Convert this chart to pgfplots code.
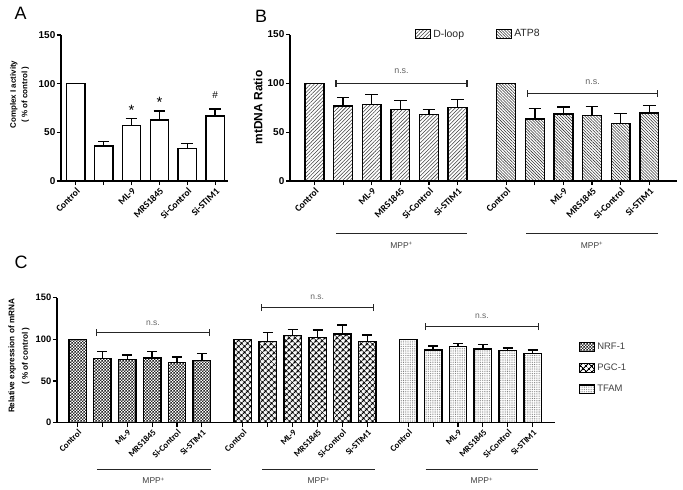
\documentclass[border=0pt]{standalone}
\usepackage{fontspec}
\setmainfont{Liberation Sans}
\newfontfamily\calfont{Carlito}
\usepackage{pgfplots}
\pgfplotsset{compat=1.18}
\usetikzlibrary{patterns,patterns.meta}

% small checkerboard for NRF-1
\pgfdeclarepatternformonly{checks}{\pgfqpoint{0pt}{0pt}}{\pgfqpoint{3.4pt}{3.4pt}}{\pgfqpoint{3.4pt}{3.4pt}}{%
  \pgfpathrectangle{\pgfqpoint{0pt}{0pt}}{\pgfqpoint{1.7pt}{1.7pt}}%
  \pgfpathrectangle{\pgfqpoint{1.7pt}{1.7pt}}{\pgfqpoint{1.7pt}{1.7pt}}%
  \pgfusepath{fill}}

\tikzset{nsbar/.style={line width=1.1bp, black!85}}
% bracket from x1 to x2 at height y, with end ticks
\newcommand\nsbracket[3]{%
  \draw[nsbar] (axis cs:#1,#3) -- (axis cs:#2,#3);
  \draw[nsbar] ([yshift=-3.5bp]axis cs:#1,#3) -- ([yshift=3.5bp]axis cs:#1,#3);
  \draw[nsbar] ([yshift=-3.5bp]axis cs:#2,#3) -- ([yshift=3.5bp]axis cs:#2,#3);}

\pgfplotsset{
  gp/.style={
    scale only axis, anchor=south west, clip=false,
    axis x line*=bottom, axis y line*=left,
    axis line style={line width=1.4bp, black},
    tick align=outside, major tick length=4bp,
    tick style={line width=1.2bp, black},
    ymin=0, ymax=150, ytick={0,50,100,150},
    /pgf/number format/assume math mode=true,
    yticklabel style={font=\bfseries\fontsize{10}{10}\selectfont, inner sep=1.5bp},
    x tick label style={rotate=45, anchor=north east, inner sep=1.5bp,
      font=\calfont\bfseries\fontsize{9.6}{9.6}\selectfont},
  },
  gpbar/.style={ybar, bar shift=0pt, draw=black, line width=1.4bp,
    legend image code/.code={\draw[##1, line width=1.2bp] (0bp,-4.3bp) rectangle (15bp,4.3bp);},
    error bars/y dir=plus, error bars/y explicit,
    error bars/error bar style={line width=1.4bp, black},
    error bars/error mark options={rotate=90, line width=1.4bp, mark size=#1, black}},
}

% panel A: complex I activity
\pgfplotstableread{
x y e
0 100 0
1 36 4.4
2 57 7.4
3 62.7 9.3
4 33.6 5.1
5 66.8 7.2
}\tabA

% panel B: mtDNA ratio
\pgfplotstableread{
x y e
0 100 0
1 76.8 8.4
2 78.4 10
3 73.4 9.3
4 67.8 5.4
5 75.5 8.2
}\tabDloop
\pgfplotstableread{
x y e
6.7 100 0
7.7 63.4 11.1
8.7 68.6 7.3
9.7 66.9 9.2
10.7 59.0 10.2
11.7 69.8 7.3
}\tabATP

% panel C: relative mRNA
\pgfplotstableread{
x y e
0 100 0
1 77.0 8.2
2 75.8 5.6
3 77.8 7.4
4 72.3 6.4
5 74.7 8.0
}\tabNRF
\pgfplotstableread{
x y e
6.65 100 0
7.65 97.2 11.3
8.65 104.4 7.6
9.65 102.0 9.3
10.65 106.5 10.8
11.65 97.2 8.1
}\tabPGC
\pgfplotstableread{
x y e
13.3 100 0
14.3 87.3 4.7
15.3 91.2 4.0
16.3 88.5 5.1
17.3 86.5 3.2
18.3 82.8 4.5
}\tabTFAM

\begin{document}
\begin{tikzpicture}
\useasboundingbox (0,0) rectangle (683bp,-490bp);

\node[font=\fontsize{18}{18}\selectfont] at (20.5bp,-13.5bp) {A};
\node[font=\fontsize{18}{18}\selectfont] at (261bp,-16.5bp) {B};
\node[font=\fontsize{18}{18}\selectfont] at (21bp,-262bp) {C};

\node[rotate=90, align=center, font=\bfseries\fontsize{8}{11.5}\selectfont]
  at (19.5bp,-94.5bp) {Complex I activity\\( \% of control )};
\node[rotate=90, font=\bfseries\fontsize{12}{12}\selectfont]
  at (258bp,-107.5bp) {mtDNA Ratio};
\node[rotate=90, align=center, font=\bfseries\fontsize{8.2}{13.5}\selectfont]
  at (19bp,-356bp) {Relative expression of mRNA\\( \% of control )};

% ---------- A ----------
\begin{axis}[gp, at={(61bp,-181bp)}, width=167bp, height=146bp,
  xmin=-0.53, xmax=5.46, xtick={0,...,5},
  xticklabels={Control,,ML-9,MRS1845,Si-Control,Si-STIM1}]
\addplot[gpbar=5.8bp, bar width=0.66, fill=white] table[x=x,y=y,y error=e] {\tabA};
\node[font=\fontsize{15}{15}\selectfont] at (axis cs:2,73) {*};
\node[font=\fontsize{15}{15}\selectfont] at (axis cs:3,81) {*};
\node[font=\fontsize{10}{10}\selectfont] at (axis cs:5,88.4) {\#};
\end{axis}

% ---------- B ----------
\begin{axis}[gp, at={(290bp,-181bp)}, width=387bp, height=146.5bp,
  xmin=-0.857, xmax=12.67,
  xtick={0,1,2,3,4,5,6.7,7.7,8.7,9.7,10.7,11.7},
  xticklabels={Control,,ML-9,MRS1845,Si-Control,Si-STIM1,Control,,ML-9,MRS1845,Si-Control,Si-STIM1},
  legend style={at={(0.315,1.003)}, anchor=west, draw=none, fill=none,
    legend columns=2, font=\fontsize{10.5}{12}\selectfont, text=black!85,
    /tikz/every even column/.append style={column sep=30bp}}]
\addplot[gpbar=6.3bp, bar width=0.66, fill=white,
  pattern={Lines[angle=45,distance=2.6pt,line width=0.55pt]}, pattern color=black!75]
  table[x=x,y=y,y error=e] {\tabDloop};
\addplot[gpbar=6.3bp, bar width=0.66, fill=white,
  pattern={Lines[angle=-45,distance=2.1pt,line width=0.55pt]}, pattern color=black!80]
  table[x=x,y=y,y error=e] {\tabATP};
\legend{D-loop, ATP8}
\nsbracket{0.75}{5.33}{100}
\node[font=\fontsize{9}{9}\selectfont, text=black!60] at (axis cs:3.04,113) {n.s.};
\nsbracket{7.43}{12.0}{89.6}
\node[font=\fontsize{9}{9}\selectfont, text=black!60] at (axis cs:9.72,101.5) {n.s.};
% MPP+ lines
\draw[nsbar] (axis cs:0.75,-53.5) -- (axis cs:5.33,-53.5);
\node[font=\fontsize{8.5}{9}\selectfont, text=black!75] at (axis cs:3.04,-65.5) {MPP\textsuperscript{+}};
\draw[nsbar] (axis cs:7.4,-53.5) -- (axis cs:12.0,-53.5);
\node[font=\fontsize{8.5}{9}\selectfont, text=black!75] at (axis cs:9.7,-65.5) {MPP\textsuperscript{+}};
\end{axis}

% ---------- C ----------
\begin{axis}[gp, at={(57bp,-422.7bp)}, width=498bp, height=125bp,
  xmin=-0.825, xmax=19.2,
  xtick={0,1,2,3,4,5,6.65,7.65,8.65,9.65,10.65,11.65,13.3,14.3,15.3,16.3,17.3,18.3},
  xticklabels={Control,,ML-9,MRS1845,Si-Control,Si-STIM1,Control,,ML-9,MRS1845,Si-Control,Si-STIM1,Control,,ML-9,MRS1845,Si-Control,Si-STIM1},
  x tick label style={font=\calfont\bfseries\fontsize{8.8}{8.8}\selectfont},
  yticklabel style={font=\bfseries\fontsize{9.4}{9.4}\selectfont},
  legend style={at={(1.042,0.67)}, anchor=north west, draw=none, fill=none,
    legend cell align=left, row sep=9bp, font=\fontsize{9.5}{11}\selectfont, text=black!75}]
\addplot[gpbar=5bp, bar width=0.7, fill=white, pattern=checks, pattern color=black!85]
  table[x=x,y=y,y error=e] {\tabNRF};
\addplot[gpbar=5bp, bar width=0.7, fill=white,
  pattern={Hatch[angle=45,distance=4pt,line width=1.1pt]}, pattern color=black]
  table[x=x,y=y,y error=e] {\tabPGC};
\addplot[gpbar=5bp, bar width=0.7, fill=white,
  pattern={Dots[distance=1.8pt,radius=0.45pt]}, pattern color=black!60]
  table[x=x,y=y,y error=e] {\tabTFAM};
\legend{NRF-1, PGC-1, TFAM}
\nsbracket{0.77}{5.3}{108}
\node[font=\fontsize{8.5}{9}\selectfont, text=black!60] at (axis cs:3.03,119) {n.s.};
\nsbracket{7.38}{11.9}{138}
\node[font=\fontsize{8.5}{9}\selectfont, text=black!60] at (axis cs:9.64,150.5) {n.s.};
\nsbracket{14.0}{18.53}{115.2}
\node[font=\fontsize{8.5}{9}\selectfont, text=black!60] at (axis cs:16.26,127.2) {n.s.};
\draw[nsbar] (axis cs:0.78,-56) -- (axis cs:5.35,-56);
\node[font=\fontsize{8.5}{9}\selectfont, text=black!75] at (axis cs:3.06,-69.6) {MPP\textsuperscript{+}};
\draw[nsbar] (axis cs:7.42,-56) -- (axis cs:11.97,-56);
\node[font=\fontsize{8.5}{9}\selectfont, text=black!75] at (axis cs:9.7,-69.6) {MPP\textsuperscript{+}};
\draw[nsbar] (axis cs:14.0,-56) -- (axis cs:18.53,-56);
\node[font=\fontsize{8.5}{9}\selectfont, text=black!75] at (axis cs:16.26,-69.6) {MPP\textsuperscript{+}};
\end{axis}
\end{tikzpicture}
\end{document}
